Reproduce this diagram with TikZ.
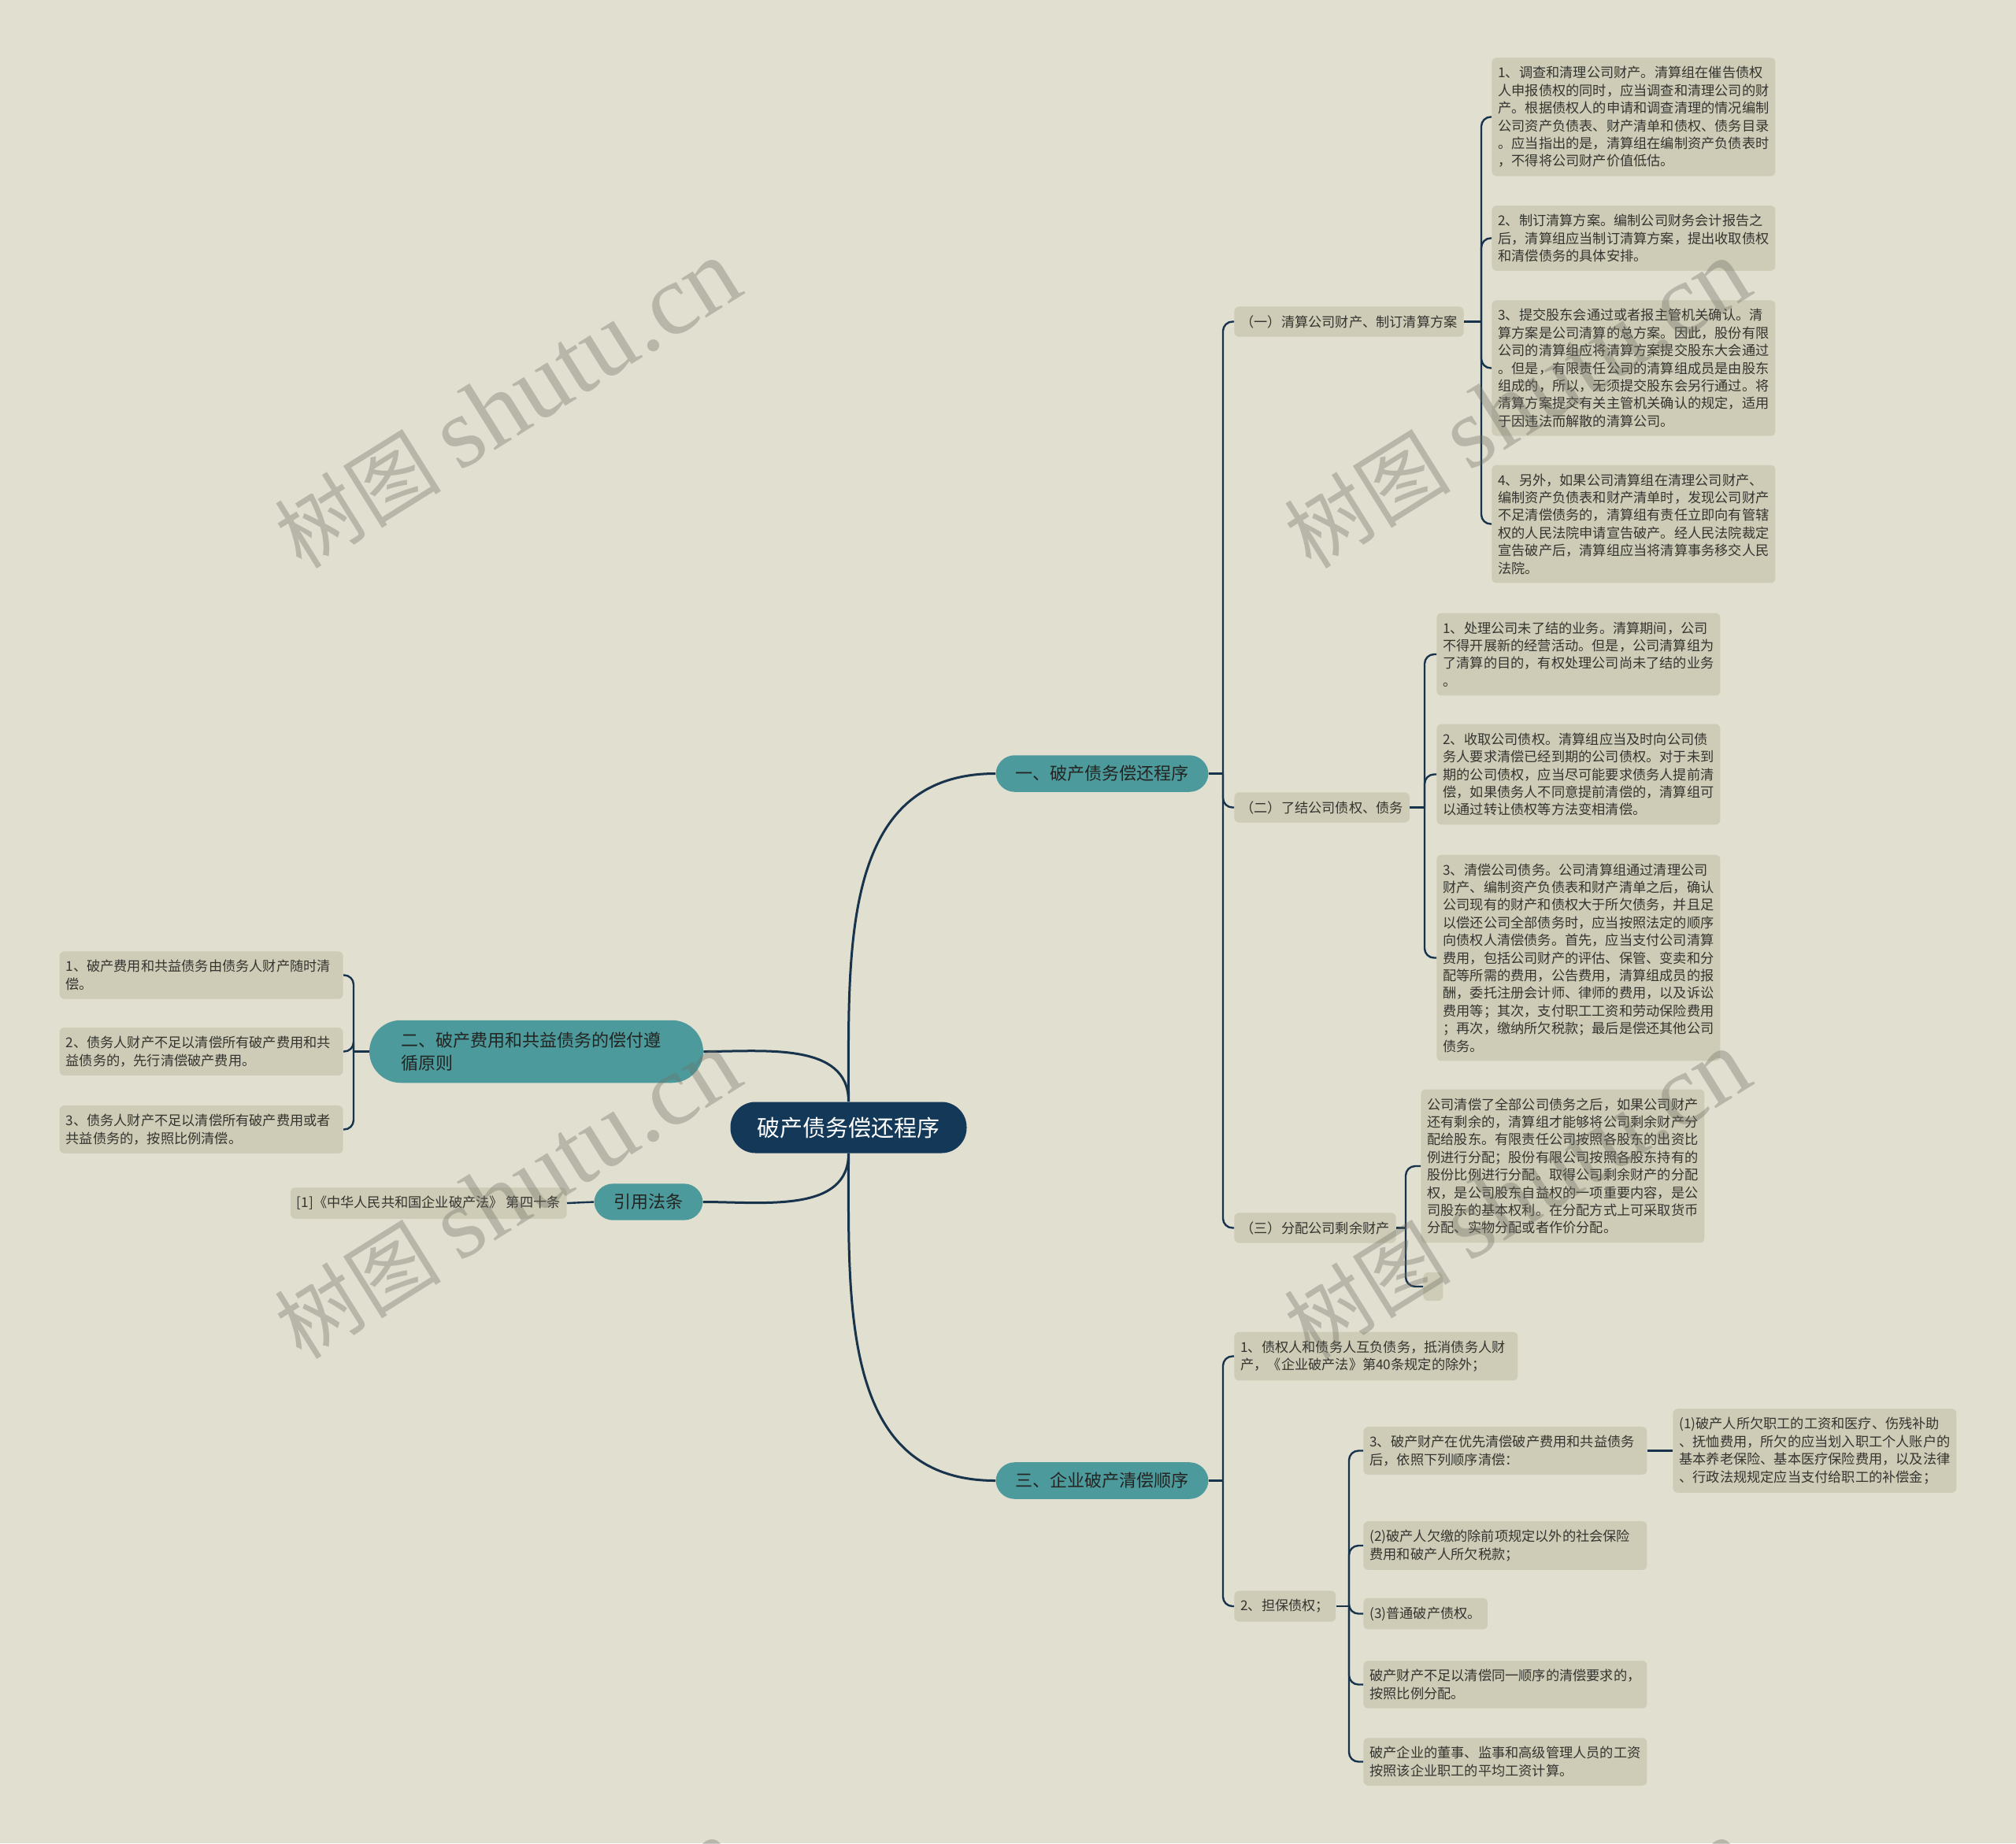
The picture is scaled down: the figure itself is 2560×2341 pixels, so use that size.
\documentclass[tikz,border=0pt]{standalone}
\usepackage{fontspec}
\setmainfont{Noto Sans CJK SC}
\newfontfamily\wmserif{Liberation Serif}
\usepackage{tikz}

\definecolor{bgcol}{RGB}{225,223,208}
\definecolor{leafcol}{RGB}{206,204,182}
\definecolor{tealcol}{RGB}{76,154,155}
\definecolor{rootcol}{RGB}{20,57,88}
\definecolor{linecol}{RGB}{24,52,76}
\definecolor{txtcol}{RGB}{52,52,48}
\definecolor{wmcol}{RGB}{110,110,100}

\tikzset{
  rootnode/.style={fill=rootcol, text=white, rounded corners=16pt, inner xsep=17pt, inner ysep=9.5pt, font=\fontsize{14.5}{17}\selectfont},
  branch/.style={fill=tealcol, text=txtcol!70!black, rounded corners=12pt, inner xsep=12.5pt, inner ysep=6.5pt, font=\fontsize{11}{14.5}\selectfont},
  mid/.style={fill=leafcol, text=txtcol, rounded corners=3pt, inner xsep=4pt, inner ysep=5.5pt, anchor=west, font=\fontsize{8.6}{11.2}\selectfont},
  leaf/.style={mid, text width=172pt, align=left},
  conn/.style={draw=linecol, line width=1.2pt, rounded corners=6pt},
  trunk/.style={draw=linecol, line width=1.5pt},
  wm/.style={text=wmcol, opacity=0.36, rotate=32, inner sep=0pt}
}

\begin{document}
\begin{tikzpicture}[x=0.5pt, y=-0.5pt]
\useasboundingbox (0,0) rectangle (2560,2341);
\fill[bgcol] (0,0) rectangle (2560,2341);

% centre and main branches
\node[rootnode] (R) at (1077.5,1432) {破产债务偿还程序};
\node[branch] (B1) at (1399.5,982.5) {一、破产债务偿还程序};
\node[branch, rounded corners=20pt, text width=172pt, align=left, inner xsep=20pt, inner ysep=7.5pt] (B2) at (681,1335.5) {二、破产费用和共益债务的偿付遵\\循原则};
\node[branch] (B3) at (1399.5,1880.5) {三、企业破产清偿顺序};
\node[branch] (B4) at (823.5,1526.5) {引用法条};

% branch 1
\node[mid] (B1N1) at (1567,408.5) {（一）清算公司财产、制订清算方案};
\node[mid] (B1N2) at (1567,1025.5) {（二）了结公司债权、债务};
\node[mid] (B1N3) at (1567,1559.5) {（三）分配公司剩余财产};

\node[leaf] (B1N1L1) at (1894,148.5) {1、调查和清理公司财产。清算组在催告债权\\人申报债权的同时，应当调查和清理公司的财\\产。根据债权人的申请和调查清理的情况编制\\公司资产负债表、财产清单和债权、债务目录\\。应当指出的是，清算组在编制资产负债表时\\，不得将公司财产价值低估。};
\node[leaf] (B1N1L2) at (1894,302.5) {2、制订清算方案。编制公司财务会计报告之\\后，清算组应当制订清算方案，提出收取债权\\和清偿债务的具体安排。};
\node[leaf] (B1N1L3) at (1894,467.5) {3、提交股东会通过或者报主管机关确认。清\\算方案是公司清算的总方案。因此，股份有限\\公司的清算组应将清算方案提交股东大会通过\\。但是，有限责任公司的清算组成员是由股东\\组成的，所以，无须提交股东会另行通过。将\\清算方案提交有关主管机关确认的规定，适用\\于因违法而解散的清算公司。};
\node[leaf] (B1N1L4) at (1894,665.5) {4、另外，如果公司清算组在清理公司财产、\\编制资产负债表和财产清单时，发现公司财产\\不足清偿债务的，清算组有责任立即向有管辖\\权的人民法院申请宣告破产。经人民法院裁定\\宣告破产后，清算组应当将清算事务移交人民\\法院。};

\node[leaf] (B1N2L1) at (1824,831) {1、处理公司未了结的业务。清算期间，公司\\不得开展新的经营活动。但是，公司清算组为\\了清算的目的，有权处理公司尚未了结的业务\\。};
\node[leaf] (B1N2L2) at (1824,983.5) {2、收取公司债权。清算组应当及时向公司债\\务人要求清偿已经到期的公司债权。对于未到\\期的公司债权，应当尽可能要求债务人提前清\\偿，如果债务人不同意提前清偿的，清算组可\\以通过转让债权等方法变相清偿。};
\node[leaf] (B1N2L3) at (1824,1216.5) {3、清偿公司债务。公司清算组通过清理公司\\财产、编制资产负债表和财产清单之后，确认\\公司现有的财产和债权大于所欠债务，并且足\\以偿还公司全部债务时，应当按照法定的顺序\\向债权人清偿债务。首先，应当支付公司清算\\费用，包括公司财产的评估、保管、变卖和分\\配等所需的费用，公告费用，清算组成员的报\\酬，委托注册会计师、律师的费用，以及诉讼\\费用等；其次，支付职工工资和劳动保险费用\\；再次，缴纳所欠税款；最后是偿还其他公司\\债务。};

\node[leaf] (B1N3L1) at (1804,1481) {公司清偿了全部公司债务之后，如果公司财产\\还有剩余的，清算组才能够将公司剩余财产分\\配给股东。有限责任公司按照各股东的出资比\\例进行分配；股份有限公司按照各股东持有的\\股份比例进行分配。取得公司剩余财产的分配\\权，是公司股东自益权的一项重要内容，是公\\司股东的基本权利。在分配方式上可采取货币\\分配、实物分配或者作价分配。};
\node[mid, inner sep=0pt, minimum width=12.5pt, minimum height=18pt] (B1N3L2) at (1807,1634) {};

% branch 2
\node[leaf, anchor=east] (B2L1) at (436,1238.5) {1、破产费用和共益债务由债务人财产随时清\\偿。};
\node[leaf, anchor=east] (B2L2) at (436,1335.5) {2、债务人财产不足以清偿所有破产费用和共\\益债务的，先行清偿破产费用。};
\node[leaf, anchor=east] (B2L3) at (436,1434.5) {3、债务人财产不足以清偿所有破产费用或者\\共益债务的，按照比例清偿。};

% branch 3
\node[leaf] (B3N1) at (1567,1722.5) {1、债权人和债务人互负债务，抵消债务人财\\产，《企业破产法》第40条规定的除外；};
\node[mid] (B3N2) at (1567,2040) {2、担保债权；};
\node[leaf] (B3N2L1) at (1731,1842.5) {3、破产财产在优先清偿破产费用和共益债务\\后，依照下列顺序清偿：};
\node[leaf] (B3N2L1X) at (2124,1842.5) {(1)破产人所欠职工的工资和医疗、伤残补助\\、抚恤费用，所欠的应当划入职工个人账户的\\基本养老保险、基本医疗保险费用，以及法律\\、行政法规规定应当支付给职工的补偿金；};
\node[leaf] (B3N2L2) at (1731,1963) {(2)破产人欠缴的除前项规定以外的社会保险\\费用和破产人所欠税款；};
\node[mid] (B3N2L3) at (1731,2049.5) {(3)普通破产债权。};
\node[leaf] (B3N2L4) at (1731,2139.5) {破产财产不足以清偿同一顺序的清偿要求的，\\按照比例分配。};
\node[leaf] (B3N2L5) at (1731,2237.5) {破产企业的董事、监事和高级管理人员的工资\\按照该企业职工的平均工资计算。};

% citation
\node[mid, anchor=east] (B4L1) at (720,1528) {[1]《中华人民共和国企业破产法》 第四十条};

% curves from the centre
\draw[trunk] (R.north) to[out=90, in=180, looseness=1.1] (B1.west);
\draw[trunk] (R.north) to[out=90, in=0] (B2.east);
\draw[trunk] (R.south) to[out=270, in=180, looseness=1.1] (B3.west);
\draw[trunk] (R.south) to[out=270, in=0] (B4.east);

% brackets
\coordinate (B1J) at (1553,982.5);
\draw[conn] (B1.east) -- (B1J);
\foreach \n in {B1N1,B1N2,B1N3} \draw[conn] (B1J) |- (\n.west);

\coordinate (B1N1J) at (1881,408.5);
\draw[conn] (B1N1.east) -- (B1N1J);
\foreach \n in {B1N1L1,B1N1L2,B1N1L3,B1N1L4} \draw[conn] (B1N1J) |- (\n.west);

\coordinate (B1N2J) at (1809,1025.5);
\draw[conn] (B1N2.east) -- (B1N2J);
\foreach \n in {B1N2L1,B1N2L2,B1N2L3} \draw[conn] (B1N2J) |- (\n.west);

\coordinate (B1N3J) at (1785,1559.5);
\draw[conn] (B1N3.east) -- (B1N3J);
\foreach \n in {B1N3L1,B1N3L2} \draw[conn] (B1N3J) |- (\n.west);

\coordinate (B2J) at (449,1335.5);
\draw[conn] (B2.west) -- (B2J);
\foreach \n in {B2L1,B2L2,B2L3} \draw[conn] (B2J) |- (\n.east);

\coordinate (B3J) at (1553,1880.5);
\draw[conn] (B3.east) -- (B3J);
\foreach \n in {B3N1,B3N2} \draw[conn] (B3J) |- (\n.west);

\coordinate (B3N2J) at (1713,2040);
\draw[conn] (B3N2.east) -- (B3N2J);
\foreach \n in {B3N2L1,B3N2L2,B3N2L3,B3N2L4,B3N2L5} \draw[conn] (B3N2J) |- (\n.west);

\draw[conn] (B3N2L1.east) -- (B3N2L1X.west);
\draw[conn] (B4.west) -- (B4L1.east);

% watermark
\foreach \wx/\wy [count=\k] in {645/514, 1927/514, 645/1518, 1927/1518, 645/2520, 1927/2520}
  \node[wm] (WM\k) at (\wx,\wy) {\fontsize{53}{57}\selectfont 树图 {\fontsize{64}{66}\wmserif shutu.cn}};
\end{tikzpicture}
\end{document}
